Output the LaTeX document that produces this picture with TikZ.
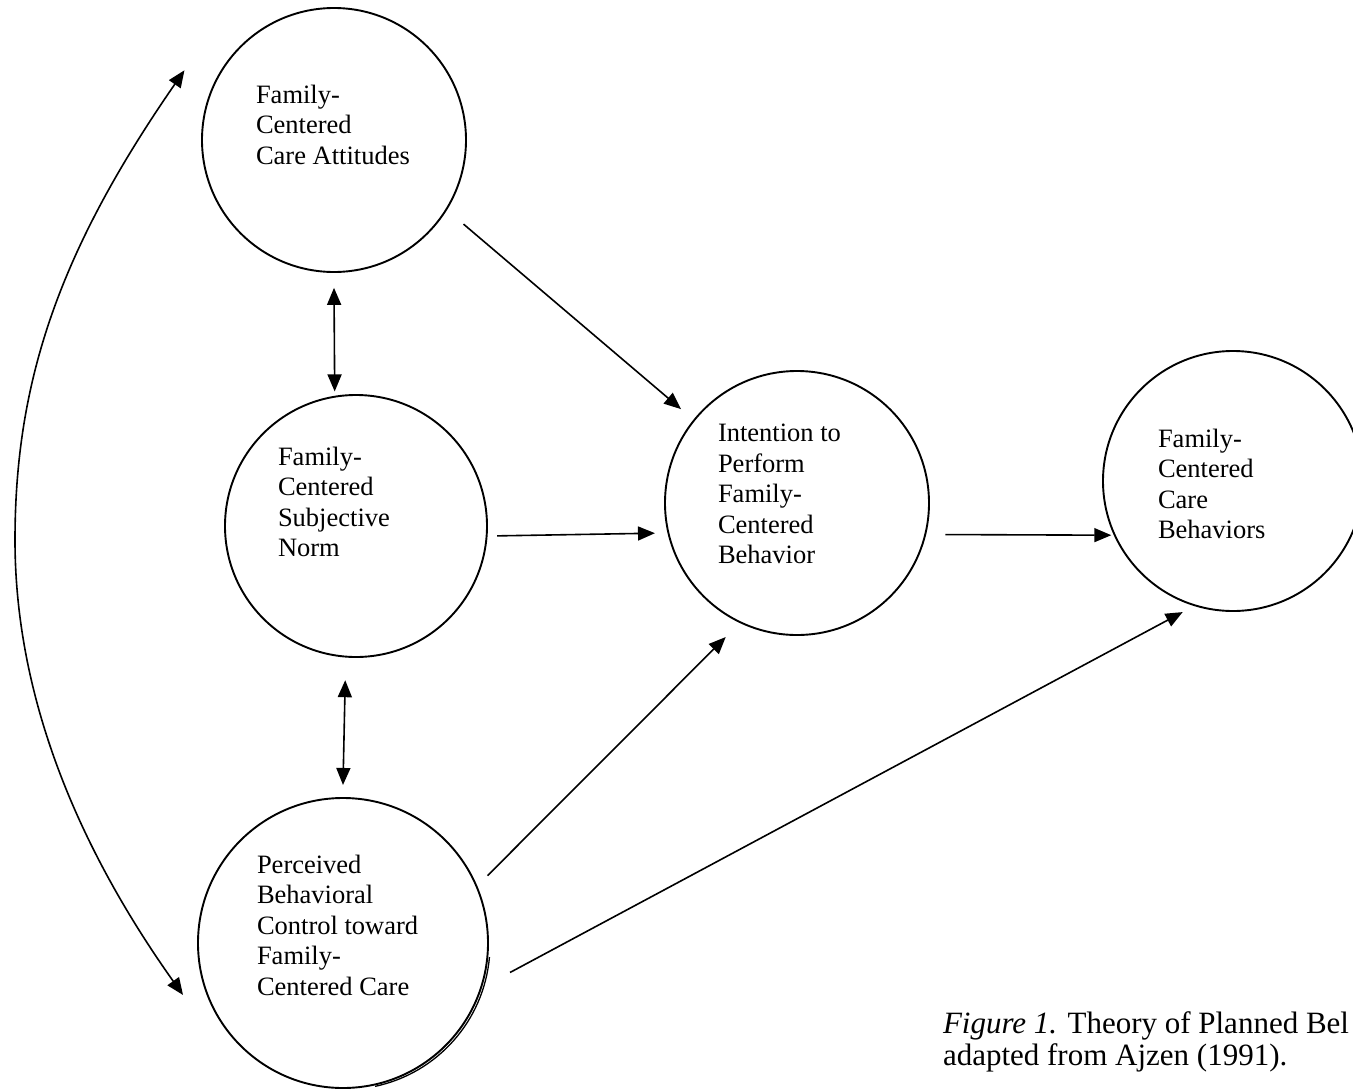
\documentclass[tikz,border=0pt]{standalone}
\usepackage{fontspec}
\setmainfont{Liberation Serif}
\usetikzlibrary{calc,arrows.meta}
\begin{document}
\begin{tikzpicture}[x=1pt,y=-1pt,
  bub/.style={circle,draw,line width=1.9pt,inner sep=0pt,outer sep=0pt},
  lbl/.style={anchor=north west,inner sep=0pt,outer sep=0pt,align=left,font=\fontsize{26.5}{30.5}\selectfont},
  captext/.style={anchor=north west,inner sep=0pt,outer sep=0pt,align=left,font=\fontsize{31}{32}\selectfont},
  conn/.style={line width=1.6pt,-{Triangle[length=17pt,width=14pt]}},
  dconn/.style={line width=1.6pt,{Triangle[length=17pt,width=14pt]}-{Triangle[length=17pt,width=14pt]}}]
\useasboundingbox (0,0) rectangle (1353,1090);
\clip (0,0) rectangle (1353,1090);
\fill[white] (0,0) rectangle (1353,1090);

% circles
\node[bub,minimum size=264pt] (att) at (334,140) {};
\node[bub,minimum size=262pt] (norm) at (356,526) {};
\node[bub,minimum size=290pt] (pbc) at (343,943) {};
\node[bub,minimum size=264pt] (int) at (797,503) {};
\node[bub,minimum size=260pt] (beh) at (1233,481) {};
\draw[line width=1.3pt] ($(pbc.center)+(2,1.5)+(5:145)$) arc[start angle=5,end angle=78,radius=145];

% labels
\node[lbl] (attT) at (256,85) {Family-\\Centered\\Care Attitudes};
\node[lbl] (normT) at (278,447) {Family-\\Centered\\Subjective\\Norm};
\node[lbl] (pbcT) at (257,855) {Perceived\\Behavioral\\Control toward\\Family-\\Centered Care};
\node[lbl] (intT) at (718,424) {Intention to\\Perform\\Family-\\Centered\\Behavior};
\node[lbl] (behT) at (1158,429) {Family-\\Centered\\Care\\Behaviors};

% connectors
\draw[conn] ($(att.center)!1.17!(att.-33.4)$) -- ($(int.center)!1.13!(int.141.5)$);
\draw[dconn] ($(att.center)!1.12!(att.-90.4)$) -- ($(norm.center)!1.04!(norm.99.7)$);
\draw[dconn] ($(norm.center)!1.18!(norm.-94.8)$) -- ($(pbc.center)!1.09!(pbc.90)$);
\draw[conn] ($(norm.center)!1.08!(norm.-4.5)$) -- ($(int.center)!1.10!(int.192.7)$);
\draw[conn] ($(int.center)!1.15!(int.-12.9)$) -- ($(beh.center)!1.025!(beh.204.8)$);
\draw[conn] ($(pbc.center)!1.10!(pbc.25.9)$) -- ($(int.center)!1.15!(int.-118.3)$);
\draw[conn] ($(pbc.center)!1.17!(pbc.-10.8)$) -- ($(beh.center)!1.08!(beh.-111.3)$);
\draw[dconn] ($(att.center)!1.25!(att.155.8)$) .. controls (60,250) and (15,380) .. (15,540)
  .. controls (15,700) and (80,850) .. ($(pbc.center)!1.16!(pbc.198)$);

% caption
\node[captext] (caption) at (943,1012) {\textit{Figure 1.} Theory of Planned Bel\\adapted from Ajzen (1991).};
\end{tikzpicture}
\end{document}
